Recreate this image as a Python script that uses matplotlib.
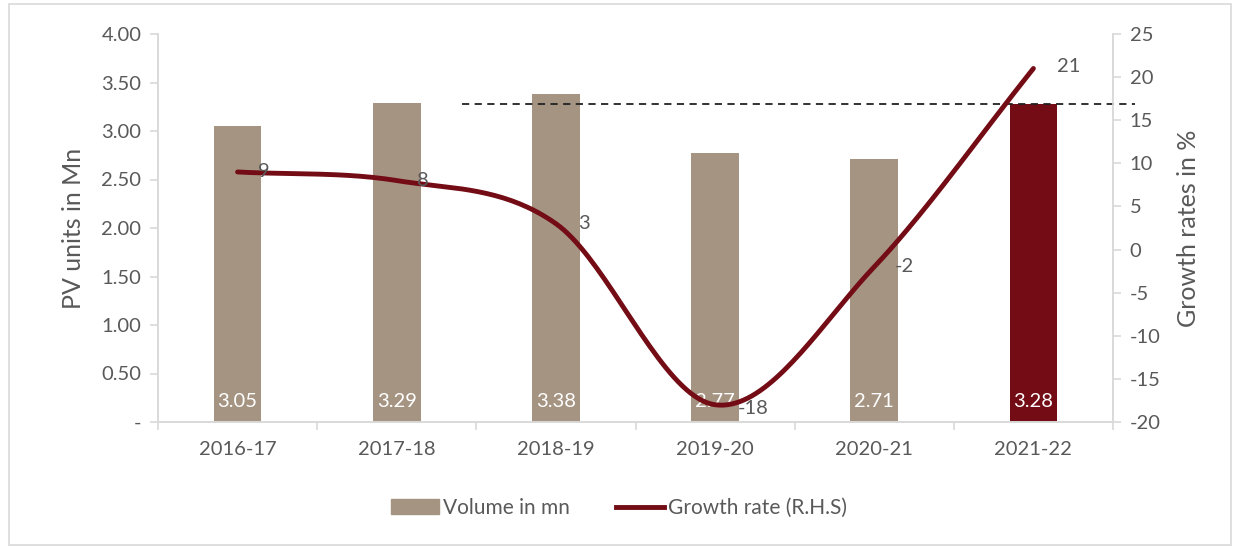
import matplotlib.pyplot as plt
import numpy as np
from matplotlib.patches import Rectangle
from matplotlib.lines import Line2D

years = ['2016-17', '2017-18', '2018-19', '2019-20', '2020-21', '2021-22']
volume = [3.05, 3.29, 3.38, 2.77, 2.71, 3.28]
growth = [9, 8, 3, -18, -2, 21]
ref_level = 3.28

plt.rcParams['font.family'] = ['Lato', 'DejaVu Sans']
plt.rcParams['axes.unicode_minus'] = False
grey = '#595959'
tan = '#A69482'
maroon = '#730C14'

fig = plt.figure(figsize=(12.38, 5.47), dpi=100)
fig.add_artist(Rectangle((0.007, 0.004), 0.987, 0.988, transform=fig.transFigure,
                         fill=False, edgecolor='#d9d9d9', linewidth=1.2))
ax = fig.add_axes([158 / 1238, 1 - 422 / 547, 955 / 1238, 388 / 547])
ax2 = ax.twinx()

x = np.arange(len(years))
colors = [tan] * (len(years) - 1) + [maroon]
ax.bar(x, volume, width=0.3, color=colors, zorder=2)
for xi, v in zip(x, volume):
    ax.text(xi, 0.12, f'{v:.2f}', ha='center', va='bottom', color='white', fontsize=14.5, zorder=5)

ax.set_xlim(-0.5, 5.5)
ax.set_ylim(0, 4)
ax.set_yticks(np.arange(0, 4.01, 0.5))
ax.set_yticklabels(['-'] + [f'{t:.2f}' for t in np.arange(0.5, 4.01, 0.5)])
ax.set_xticks(x)
ax.set_xticklabels(years)
ax.set_xticks(np.arange(-0.5, 5.6, 1), minor=True)
ax.tick_params(axis='x', which='major', length=0, pad=14, labelsize=14.5, labelcolor=grey)
ax.tick_params(axis='x', which='minor', length=6, color='#d9d9d9', width=1.2)
ax.tick_params(axis='y', length=6, color='#d9d9d9', width=1.2, labelsize=14.5, labelcolor=grey, pad=6)
ax.set_ylabel('PV units in Mn', fontsize=18, color=grey, labelpad=12)

# dashed reference line
ax.plot([1.41, 5.64], [ref_level, ref_level], ls=(0, (4, 3)), color='#222222', lw=1.3,
        clip_on=False, zorder=4)


def catmull_rom(xs, ys, n=40):
    px = np.concatenate([[2 * xs[0] - xs[1]], xs, [2 * xs[-1] - xs[-2]]])
    py = np.concatenate([[2 * ys[0] - ys[1]], ys, [2 * ys[-1] - ys[-2]]])
    ox, oy = [], []
    for i in range(1, len(px) - 2):
        t = np.linspace(0, 1, n)
        for p, out in ((px, ox), (py, oy)):
            p0, p1, p2, p3 = p[i - 1:i + 3]
            out.extend(0.5 * ((2 * p1) + (-p0 + p2) * t + (2 * p0 - 5 * p1 + 4 * p2 - p3) * t ** 2
                              + (-p0 + 3 * p1 - 3 * p2 + p3) * t ** 3))
    return np.array(ox), np.array(oy)


sx, sy = catmull_rom(x.astype(float), np.array(growth, float))
ax2.plot(sx, sy, color=maroon, lw=3.5, solid_capstyle='round', zorder=3)
offsets = [(0.13, 0), (0.13, 0), (0.14, 0), (0.14, -0.4), (0.13, 0), (0.15, 0.2)]
for xi, g, (dx, dy) in zip(x, growth, offsets):
    ax2.text(xi + dx, g + dy, str(g), ha='left', va='center', color=grey, fontsize=14.5, zorder=6)

ax2.set_ylim(-20, 25)
ax2.set_yticks(np.arange(-20, 26, 5))
ax2.tick_params(axis='y', length=6, color='#d9d9d9', width=1.2, labelsize=14.5, labelcolor=grey, pad=6)
ax2.set_ylabel('Growth rates in %', fontsize=18, color=grey, labelpad=12)

for a in (ax, ax2):
    a.spines['top'].set_visible(False)
    for s in ('left', 'right', 'bottom'):
        a.spines[s].set_color('#d9d9d9')
        a.spines[s].set_linewidth(1.2)
ax.set_zorder(ax2.get_zorder() - 1)
ax.patch.set_visible(False)
ax2.patch.set_visible(False)

handles = [Rectangle((0, 0), 1, 1, color=tan), Line2D([0], [0], color=maroon, lw=3.5)]
fig.legend(handles, ['Volume in mn', 'Growth rate (R.H.S)'], loc='center',
           bbox_to_anchor=(0.5, 1 - 508 / 547), ncol=2, frameon=False, fontsize=15,
           labelcolor=grey, handlelength=2.3, handletextpad=0.2, columnspacing=2.2)

fig.savefig('out.png', dpi=100)
